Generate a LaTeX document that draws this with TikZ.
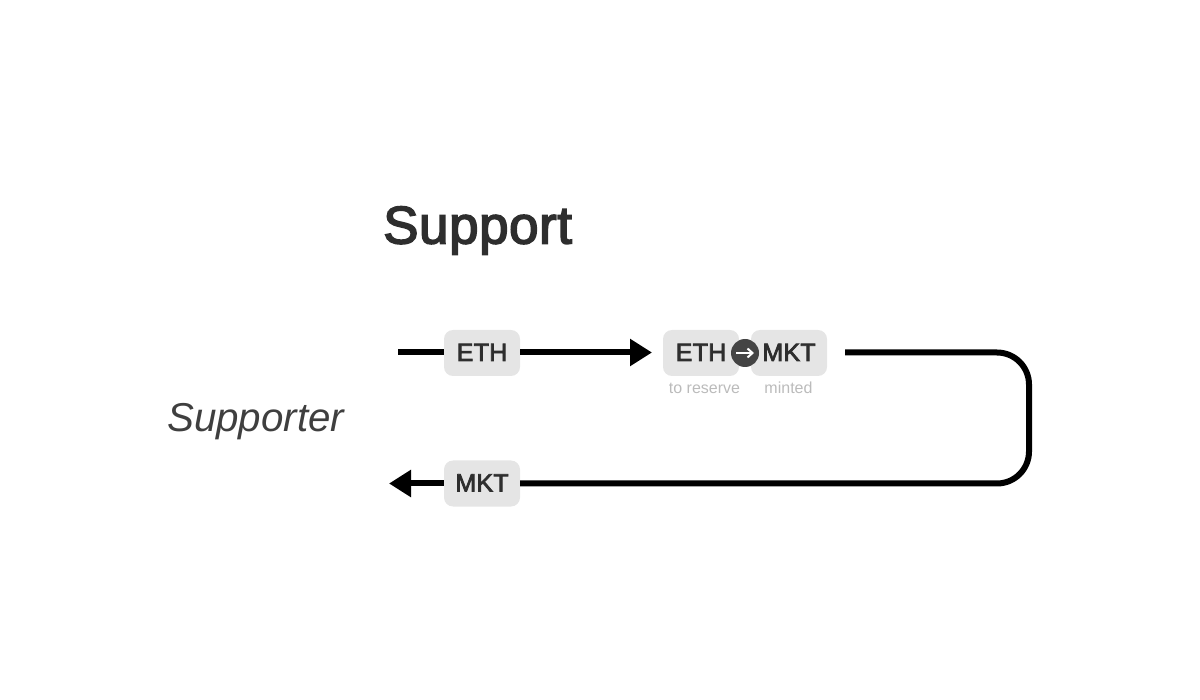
\documentclass[tikz,border=0pt]{standalone}
\usepackage{fontspec}
\setmainfont{Liberation Sans}
\newfontfamily\medfont[FakeBold=3, LetterSpace=1]{Liberation Sans}
\usetikzlibrary{arrows.meta}
\definecolor{chipgray}{HTML}{E5E5E5}
\definecolor{inkgray}{HTML}{2E2E2E}
\definecolor{notegray}{HTML}{BBBBBB}
\definecolor{dotgray}{HTML}{444444}
\tikzset{
  chip/.style={fill=chipgray, rounded corners=9pt, minimum width=76pt, minimum height=46pt, inner sep=0pt, text=inkgray, text height=16pt, text depth=0pt, font=\medfont\fontsize{25}{25}\selectfont},
  note/.style={inner sep=0pt, anchor=base, text=notegray, font=\fontsize{16}{16}\selectfont},
  flow/.style={line width=6pt, black},
  tipflow/.style={flow, -{Triangle[length=22pt, width=26pt]}},
}
\begin{document}
\begin{tikzpicture}[x=1pt, y=-1pt]
\useasboundingbox (0,0) rectangle (1200,700);
\node[inner sep=0pt, anchor=base west, text=inkgray, font=\medfont\fontsize{53}{53}\selectfont] (title) at (383,243.5){Support};
\node[inner sep=0pt, anchor=base west, text=inkgray!92, font=\itshape\fontsize{40.3}{40.3}\selectfont] (supporter) at (167,432){Supporter};
\node[chip] (ethin) at (482,353){ETH};
\node[chip] (ethres) at (701,353){ETH};
\node[chip] (mktmint) at (789,353){MKT};
\node[chip] (mktout) at (482,483.5){MKT};
\node[circle, fill=dotgray, minimum size=28pt, inner sep=0pt] (swap) at (745,353){};
\node[note] (reserve) at (704.5,394){to reserve};
\node[note] (minted) at (788.5,394){minted};
\coordinate (startin) at (398,352.5);
\coordinate (tipin) at (652,352.5);
\coordinate (startout) at (845,352.5);
\coordinate (turna) at (1029,352.5);
\coordinate (turnb) at (1029,483.5);
\coordinate (tipout) at (389,483.5);
\coordinate (swapa) at (736,353);
\coordinate (swapb) at (754,353);
\draw[flow] (startin) -- (ethin.west |- startin);
\draw[tipflow] (ethin.east |- tipin) -- (tipin);
\draw[flow, rounded corners=32pt] (startout) -- (turna) -- (turnb) -- (mktout.east);
\draw[tipflow] (mktout.west) -- (tipout);
\draw[white, line width=2pt, -{Straight Barb[length=5pt, width=9pt]}] (swapa) -- (swapb);
\end{tikzpicture}
\end{document}
